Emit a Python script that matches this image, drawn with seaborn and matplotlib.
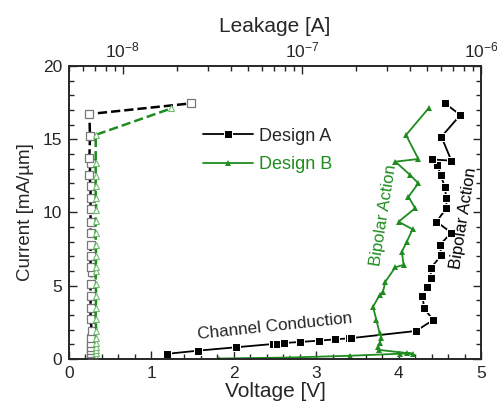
import matplotlib
matplotlib.use('Agg')
import matplotlib.pyplot as plt
from matplotlib.ticker import MultipleLocator, NullFormatter, LogLocator
import seaborn as sns
import numpy as np

# voltage sweep (bottom axis) - Design A and Design B
volt_a = [1.19, 1.57, 2.03, 2.47, 2.52, 2.61, 2.80, 3.03, 3.23, 3.40, 3.42, 4.21, 4.42, 4.31, 4.29,
          4.34, 4.39, 4.39, 4.52, 4.50, 4.64, 4.46, 4.58, 4.58, 4.56, 4.51, 4.47, 4.40, 4.64, 4.52,
          4.75, 4.56]
curr_a = [0.35, 0.57, 0.80, 1.02, 1.03, 1.09, 1.16, 1.25, 1.34, 1.41, 1.42, 1.91, 2.66, 3.45, 4.30,
          4.94, 5.51, 6.19, 7.10, 7.78, 8.62, 9.37, 10.29, 10.97, 11.76, 12.56, 13.24, 13.62, 13.54, 15.17,
          16.66, 17.45]

volt_b = [1.82, 2.68, 3.41, 4.02, 4.10, 4.17, 3.76, 3.75, 3.77, 3.79, 3.77, 3.73, 3.69, 3.77, 3.81,
          3.84, 3.96, 4.06, 4.04, 4.10, 4.17, 4.00, 4.20, 4.12, 4.24, 4.14, 3.96, 4.24, 4.09, 4.37]
curr_b = [0.03, 0.10, 0.22, 0.36, 0.38, 0.36, 0.62, 0.85, 1.10, 1.45, 1.75, 2.66, 3.57, 4.37, 4.59,
          5.28, 6.26, 6.42, 7.32, 8.01, 8.85, 9.37, 10.29, 11.08, 11.99, 12.56, 13.47, 13.65, 15.29, 17.15]

# leakage (top axis, log)
leak_a = [6.6e-9, 6.6e-9, 6.6e-9, 6.6e-9, 6.6e-9, 6.6e-9, 6.7e-9, 6.6e-9, 6.6e-9, 6.6e-9,
          6.6e-9, 6.7e-9, 6.6e-9, 6.6e-9, 6.6e-9, 6.6e-9, 6.6e-9, 6.6e-9, 6.6e-9, 6.6e-9,
          6.5e-9, 6.6e-9, 6.5e-9, 6.55e-9, 6.5e-9, 2.41e-8]
lcur_a = [0.16, 0.39, 0.61, 0.84, 1.07, 1.41, 1.91, 2.71, 3.46, 4.32, 5.10, 5.96, 6.30, 7.03, 7.78,
          8.62, 9.37, 10.22, 10.97, 11.81, 12.56, 13.36, 13.70, 15.22, 16.72, 17.45]

leak_b = [7.05e-9, 7.05e-9, 7.05e-9, 7.05e-9, 7.05e-9, 7.05e-9, 7.05e-9, 7.1e-9, 7.05e-9, 7.05e-9,
          7.1e-9, 7.05e-9, 7.05e-9, 7.05e-9, 7.1e-9, 7.05e-9, 7.05e-9, 7.05e-9, 7.1e-9, 7.05e-9,
          7.05e-9, 7.05e-9, 7.05e-9, 7.05e-9, 1.86e-8]
lcur_b = [0.0, 0.15, 0.40, 0.60, 0.85, 1.10, 1.40, 1.90, 2.70, 3.50, 4.30, 5.10, 6.00, 6.30, 7.00,
          7.80, 8.60, 9.40, 10.20, 11.00, 11.80, 12.50, 13.40, 15.30, 17.10]

green = '#1e8c1e'

sns.set_style('ticks')
plt.rcParams['font.family'] = ['Liberation Sans', 'DejaVu Sans']
plt.rcParams['mathtext.fontset'] = 'custom'
plt.rcParams['mathtext.rm'] = 'Liberation Sans'

fig = plt.figure(figsize=(4.97, 4.15), dpi=100)
ax = fig.add_axes([0.1388, 0.135, 0.829, 0.706])
ax2 = ax.twiny()
ax2.set_xscale('log')
ax2.set_xlim(5e-9, 1e-6)

sns.lineplot(x=volt_a, y=curr_a, ax=ax, sort=False, estimator=None, color='black',
             marker='s', markersize=6, linewidth=1.3, label='Design A')
sns.lineplot(x=volt_b, y=curr_b, ax=ax, sort=False, estimator=None, color=green,
             marker='^', markersize=4, markeredgewidth=0, linewidth=1.3, label='Design B')

sns.lineplot(x=leak_a, y=lcur_a, ax=ax2, sort=False, estimator=None, color='black',
             linestyle='--', linewidth=1.8, marker='s', markersize=5.5, markerfacecolor='white',
             markeredgecolor='#777777', markeredgewidth=0.9, legend=False)
sns.lineplot(x=leak_b, y=lcur_b, ax=ax2, sort=False, estimator=None, color=green,
             linestyle='--', linewidth=1.8, marker='^', markersize=4.5, markerfacecolor='white',
             markeredgecolor='#6fbf6f', markeredgewidth=0.8, legend=False)

ax.set_xlim(0, 5)
ax.set_ylim(0, 20)
ax.xaxis.set_major_locator(MultipleLocator(1))
ax.xaxis.set_minor_locator(MultipleLocator(0.2))
ax.yaxis.set_major_locator(MultipleLocator(5))
ax.yaxis.set_minor_locator(MultipleLocator(1))
ax.tick_params(which='both', direction='in', labelsize=12.5, width=1, top=False, right=True)
ax.tick_params(which='major', length=6, pad=5)
ax.tick_params(which='minor', length=3.5)
ax2.xaxis.set_major_locator(LogLocator(base=10))
ax2.xaxis.set_minor_locator(LogLocator(base=10, subs=np.arange(2, 10)))
ax2.xaxis.set_minor_formatter(NullFormatter())
ax2.tick_params(which='both', direction='in', labelsize=12.5, width=1)
ax2.tick_params(which='major', length=6, pad=4)
ax2.tick_params(which='minor', length=3.5)
for a in (ax, ax2):
    for s in a.spines.values():
        s.set_visible(True)
        s.set_linewidth(1.2)

ax.set_xlabel('Voltage [V]', fontsize=15, labelpad=1)
ax.set_ylabel('Current [mA/µm]', fontsize=13.5, labelpad=6)
ax2.set_xlabel('Leakage [A]', fontsize=15, labelpad=6)

ax.text(2.5, 2.2, 'Channel Conduction', fontsize=12.3, rotation=6, ha='center', va='center')
ax.text(3.82, 9.8, 'Bipolar Action', fontsize=12, rotation=81, ha='center', va='center', color=green)
ax.text(4.79, 9.6, 'Bipolar Action', fontsize=12, rotation=81, ha='center', va='center', color='black')

leg = ax.legend(loc='upper left', bbox_to_anchor=(0.285, 0.845), frameon=False, fontsize=13,
                handlelength=2.8, handletextpad=0.3, labelspacing=0.65)
leg.get_texts()[1].set_color(green)

fig.savefig('out.png', dpi=100)
